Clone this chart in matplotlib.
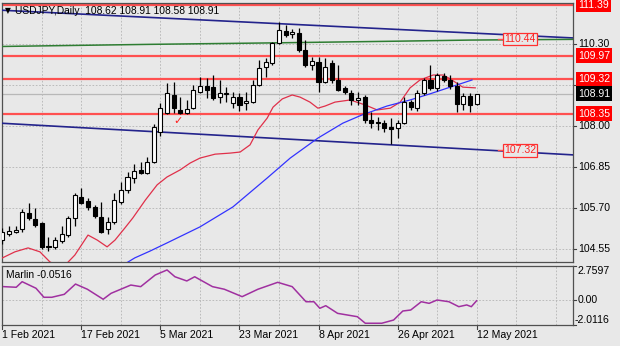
import matplotlib
matplotlib.use("Agg")
import matplotlib.pyplot as plt
from matplotlib.transforms import blended_transform_factory

# ---- USDJPY daily bars, 1 Feb 2021 .. 12 May 2021 ----
opens = [104.80, 104.97, 105.03, 105.11, 105.56, 105.39, 105.28, 104.64, 104.61, 104.77,
         104.94, 105.42, 106.01, 105.90, 105.73, 105.45, 105.11, 105.31, 105.87, 106.21,
         106.54, 106.77, 106.68, 106.99, 107.83, 108.36, 108.87, 108.45, 108.36, 108.50,
         108.95, 109.12, 109.09, 108.81, 108.90, 108.65, 108.81, 108.65, 108.67, 109.15,
         109.66, 109.77, 110.33, 110.66, 110.58, 110.61, 110.13, 109.71, 109.80, 109.23,
         109.77, 109.29, 109.07, 108.93, 108.73, 108.81, 108.17, 108.11, 108.08, 107.97,
         107.94, 108.08, 108.67, 108.50, 108.93, 109.29, 109.07, 109.40, 109.29, 109.12,
         108.62, 108.84, 108.62]
highs = [105.15, 105.20, 105.19, 105.67, 105.84, 105.70, 105.31, 104.89, 104.89, 105.19,
         105.48, 106.12, 106.26, 105.98, 105.78, 105.87, 105.45, 106.12, 106.43, 106.71,
         106.93, 106.99, 107.13, 108.06, 108.65, 109.21, 109.23, 108.81, 108.73, 109.15,
         109.37, 109.35, 109.43, 109.29, 109.09, 108.95, 108.93, 108.95, 109.29, 109.85,
         109.91, 110.36, 110.92, 110.83, 110.72, 110.75, 110.41, 109.94, 109.94, 109.91,
         109.85, 109.71, 109.12, 109.01, 108.95, 108.87, 108.39, 108.25, 108.17, 108.22,
         108.17, 108.81, 108.73, 109.00, 109.35, 109.71, 109.49, 109.49, 109.43, 109.23,
         108.93, 108.93, 108.91]
lows = [104.69, 104.91, 105.00, 105.03, 105.36, 105.17, 104.55, 104.49, 104.55, 104.72,
        104.89, 105.19, 105.81, 105.64, 105.42, 105.00, 104.97, 105.25, 105.81, 106.12,
        106.40, 106.65, 106.65, 106.96, 107.72, 108.34, 108.36, 108.34, 108.34, 108.48,
        108.93, 108.79, 108.73, 108.65, 108.67, 108.50, 108.42, 108.45, 108.65, 109.12,
        109.37, 109.71, 110.30, 110.50, 110.47, 110.08, 109.66, 109.57, 108.95, 109.21,
        109.21, 108.98, 108.90, 108.59, 108.59, 108.08, 107.94, 107.89, 107.83, 107.50,
        107.66, 108.06, 108.45, 108.42, 108.87, 109.01, 108.98, 109.23, 109.04, 108.39,
        108.45, 108.39, 108.58]
closes = [105.03, 105.06, 105.08, 105.59, 105.42, 105.22, 104.61, 104.61, 104.80, 104.97,
          105.42, 106.06, 105.84, 105.73, 105.48, 105.03, 105.31, 105.92, 106.21, 106.57,
          106.74, 106.68, 106.99, 107.97, 108.50, 108.93, 108.50, 108.36, 108.48, 109.01,
          109.12, 109.01, 108.79, 108.93, 108.92, 108.81, 108.59, 108.70, 109.15, 109.63,
          109.80, 110.33, 110.69, 110.55, 110.64, 110.13, 109.71, 109.82, 109.23, 109.66,
          109.29, 109.01, 108.95, 108.73, 108.79, 108.17, 108.08, 108.08, 107.94, 107.92,
          108.08, 108.67, 108.53, 108.93, 109.29, 109.07, 109.43, 109.29, 109.12, 108.62,
          108.84, 108.59, 108.91]

date_labels = ["1 Feb 2021", "17 Feb 2021", "5 Mar 2021", "23 Mar 2021",
               "8 Apr 2021", "26 Apr 2021", "12 May 2021"]
date_bars = [0, 12, 24, 36, 48, 60, 72]

# fast moving average (red), bar index / value
ma_fast_bar = [0, 1.9, 3.9, 5.7, 7.2, 8.4, 9.7, 11, 13, 14.4, 15.9, 17.1, 18.6, 19.8, 21.7,
               23.5, 25, 27, 28.5, 30, 32.3, 34.6, 36.1, 37.6, 38.8, 40.2, 41.1, 42.5, 44,
               45.2, 46.7, 47.9, 49, 50.5, 52.8, 55.1, 56.9, 58.9, 60.4, 61.9, 63.4, 65.4,
               66.9, 68, 69.9, 71.8]
ma_fast_val = [104.30, 104.47, 104.58, 104.47, 104.19, 104.07, 104.13, 104.38, 104.94, 104.80,
               104.61, 104.80, 105.14, 105.42, 105.92, 106.35, 106.57, 106.77, 106.96, 107.10,
               107.21, 107.24, 107.27, 107.47, 107.89, 108.22, 108.53, 108.76, 108.87, 108.81,
               108.67, 108.50, 108.56, 108.67, 108.73, 108.59, 108.45, 108.50, 108.67, 109.07,
               109.29, 109.43, 109.43, 109.32, 109.09, 109.07]

# slow moving average (blue)
ma_slow_bar = [17.6, 20.1, 22.4, 25, 30, 35, 40.2, 43.7, 47.9, 51.7, 54.6, 58.4, 61.9, 64.9,
               68, 71.3]
ma_slow_val = [104.02, 104.30, 104.49, 104.72, 105.17, 105.73, 106.54, 107.10, 107.66, 108.08,
               108.31, 108.56, 108.73, 108.90, 109.09, 109.29]

# long moving average (green)
ma_long_bar = [-0.4, 22.4, 40.6, 60.4, 71, 86.6]
ma_long_val = [110.23, 110.29, 110.33, 110.38, 110.41, 110.43]

# horizontal levels and channel lines
levels = [111.39, 109.97, 109.32, 108.35]
upper_channel = ([-0.4, 86.6], [111.25, 110.47])
lower_channel = ([-0.4, 86.6], [108.08, 107.19])
tag_values = [110.44, 107.32]
last_price = 108.91
grid_prices = [111.45, 110.30, 109.15, 108.00, 106.85, 105.70, 104.55]
scale_labels = [110.30, 108.00, 106.85, 105.70, 104.55]

# Marlin oscillator
marlin_bar = [0.2, 2.1, 3.0, 5.1, 6.3, 7.5, 9.4, 11.1, 12.9, 15.3, 16.5, 19.5, 21.0, 23.2, 25.0,
              26.2, 28.0, 29.2, 31.9, 33.7, 36.4, 38.8, 41.8, 44.0, 46.1, 47.3, 48.2, 49.1,
              50.9, 53.9, 55.1, 57.6, 59.4, 60.8, 62.0, 63.6, 64.8, 66.0, 67.8, 69.3, 70.5,
              71.2, 72.0]
marlin_val = [1.09, 1.04, 1.49, 0.96, 0.23, 0.23, 0.47, 1.30, 0.88, 0.07, 0.55, 1.22, 1.09,
              2.03, 2.44, 1.89, 1.55, 1.89, 1.09, 0.88, 0.28, 0.88, 1.44, 1.09, -0.13, -0.13,
              -0.66, -0.45, -1.07, -1.34, -1.87, -1.87, -1.61, -0.88, -0.80, -0.13, -0.26,
              0.01, -0.13, -0.53, -0.39, -0.53, -0.0516]
marlin_max, marlin_min = 2.7597, -2.0116

# ---- figure ----
W, H = 620, 346
BG = "#e8e8e8"
FONT = "Liberation Sans"
plt.rcParams["font.family"] = [FONT, "DejaVu Sans"]

fig = plt.figure(figsize=(W / 100, H / 100), dpi=100, facecolor=BG)


def px_axes(left, top, right, bottom):
    return fig.add_axes([left / W, 1 - bottom / H, (right - left) / W, (bottom - top) / H])


ax = px_axes(2, 3, 573, 262)
sub = px_axes(2, 266, 573, 325)

xmin, xmax = -0.06, 86.64
for a in (ax, sub):
    a.set_facecolor(BG)
    a.set_xlim(xmin, xmax)
    a.set_xticks([])
    a.set_yticks([])
    for s in a.spines.values():
        s.set_color("#505050")
        s.set_linewidth(0.9)
    for b in range(0, 87, 6):
        a.axvline(b, color="#b4b4b4", lw=0.6, ls=(0, (2, 2)), zorder=0)

ax.set_ylim(104.185, 111.45)
sub.set_ylim(marlin_min, marlin_max)

for g in grid_prices:
    ax.axhline(g, color="#b4b4b4", lw=0.6, ls=(0, (2, 2)), zorder=0)
sub.axhline(0, color="#b4b4b4", lw=0.6, ls=(0, (2, 2)), zorder=0)

# bid line
ax.axhline(last_price, color="#b8b8b8", lw=0.9, zorder=1)

# levels
for lv in levels:
    ax.axhline(lv, color="#ff5050", lw=1.6, zorder=2)

# channel lines and long MA
ax.plot(*upper_channel, color="#23238c", lw=1.2, zorder=3)
ax.plot(*lower_channel, color="#23238c", lw=1.2, zorder=3)
ax.plot(ma_long_bar, ma_long_val, color="#2e7d32", lw=1.1, zorder=3)

# moving averages
ax.plot(ma_fast_bar, ma_fast_val, color="#e0304a", lw=0.9, zorder=4)
ax.plot(ma_slow_bar, ma_slow_val, color="#3333ff", lw=0.9, zorder=4)

# candles
xs = list(range(len(opens)))
ax.vlines(xs, lows, highs, color="black", lw=0.9, zorder=5)
for i in xs:
    o, c = opens[i], closes[i]
    bottom = min(o, c)
    h = max(abs(c - o), 0.012)
    ax.bar(i, h, bottom=bottom, width=0.62, color="white" if c >= o else "black",
           edgecolor="black", lw=0.8, zorder=6)

# tag labels on the channel / MA
for tv in tag_values:
    ax.plot([75.2, 76.1], [tv, tv], color="#ff5050", lw=1.0, zorder=6)
    ax.text(78.6, tv, f"{tv:.2f}", color="#ff2020", fontsize=7.6, ha="center", va="center",
            zorder=7, bbox=dict(boxstyle="square,pad=0.12", fc=BG, ec="#ff3030", lw=0.9))

# check mark
ax.text(26.7, 108.14, "\u2713", color="#ff2020", fontsize=8, ha="center", va="center",
        family="DejaVu Sans", zorder=7)

# title
ax.text(6 / 571, 1 - 8 / 259, "\u25bc", transform=ax.transAxes, fontsize=5.5,
        family="DejaVu Sans", ha="center", va="center", color="black", zorder=8)
ax.text(13 / 571, 1 - 8 / 259, "USDJPY,Daily  108.62 108.91 108.58 108.91",
        transform=ax.transAxes, fontsize=7.4, ha="left", va="center", color="black", zorder=8)

# Marlin
sub.plot(marlin_bar, marlin_val, color="#a030a0", lw=1.1, zorder=4)
sub.text(4 / 571, 1 - 9 / 59, "Marlin -0.0516", transform=sub.transAxes, fontsize=7.4,
         ha="left", va="center", color="black")

# right price scale
tr = blended_transform_factory(ax.transAxes, ax.transData)
xl = (578 - 2) / 571
for g in grid_prices[1:]:
    ax.plot([1.0, 1.006], [g, g], transform=tr, color="#404040", lw=0.8, clip_on=False)
for g in scale_labels:
    ax.text(xl, g, f"{g:.2f}", transform=tr, fontsize=7.6, ha="left", va="center",
            color="black", clip_on=False, zorder=1)
for lv in levels:
    ax.text(xl, lv, f"{lv:.2f}", transform=tr, fontsize=7.6, ha="left", va="center",
            color="white", clip_on=False, zorder=10,
            bbox=dict(boxstyle="square,pad=0.22", fc="#ff0000", ec="none"))
ax.text(xl, last_price, f"{last_price:.2f}", transform=tr, fontsize=7.6, ha="left",
        va="center", color="white", clip_on=False, zorder=10,
        bbox=dict(boxstyle="square,pad=0.22", fc="black", ec="none"))

trs = blended_transform_factory(sub.transAxes, sub.transData)
sub.text(xl, marlin_max, f"{marlin_max:.4f}", transform=trs, fontsize=7.6, ha="left",
         va="top", color="black", clip_on=False)
sub.text(xl, 0, "0.00", transform=trs, fontsize=7.6, ha="left", va="center",
         color="black", clip_on=False)
sub.text(xl - 3 / 571, marlin_min, f"{marlin_min:.4f}", transform=trs, fontsize=7.6,
         ha="left", va="bottom", color="black", clip_on=False)
for v in (marlin_max, 0, marlin_min):
    sub.plot([1.0, 1.006], [v, v], transform=trs, color="#404040", lw=0.8, clip_on=False)

# date axis
trx = blended_transform_factory(sub.transData, sub.transAxes)
for b, lab in zip(date_bars, date_labels):
    sub.plot([b, b], [0, -0.07], transform=trx, color="#404040", lw=0.8, clip_on=False)
    sub.text(b, -0.17, lab, transform=trx, fontsize=7.6, ha="left", va="center",
             color="black", clip_on=False)

fig.savefig("out.png", dpi=100, facecolor=BG)
